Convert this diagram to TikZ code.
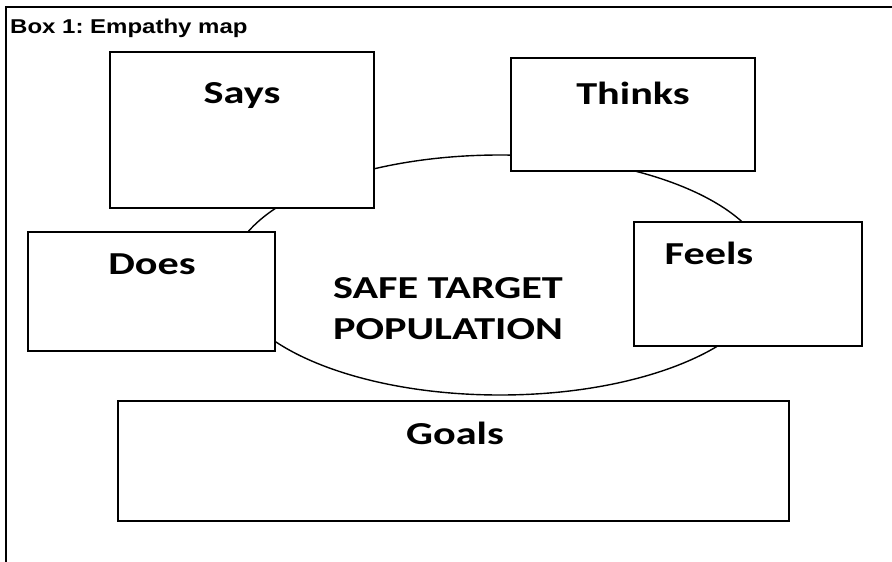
\documentclass[tikz,border=0pt]{standalone}
\usepackage{fontspec}
\usepackage{graphicx}
\setmainfont{Carlito}
\newfontfamily\titlefont{Liberation Sans}
\frenchspacing
\newcommand{\wide}[1]{\scalebox{1.32}[1]{#1}}
\newcommand{\widetitle}[1]{\scalebox{1.2}[1]{#1}}
\tikzset{
  boite/.style={draw, line width=2pt, fill=white},
  mot/.style={font=\bfseries\fontsize{32}{32}\selectfont, anchor=base, inner sep=0pt},
}

\begin{document}
\begin{tikzpicture}[x=1pt,y=-1pt]  % ------ Empathy map -------
    \useasboundingbox (0,0) rectangle (892,562);

    \draw[line width=2pt] (6,562) -- (6,7) -- (892,7) ;  % cadre
    \node[anchor=base west, inner sep=0pt, font=\titlefont\bfseries\fontsize{20}{20}\selectfont] (title) at (10,34) {\widetitle{Box 1: Empathy map}};

    \draw[line width=1.4pt] (500,275) ellipse [x radius=270, y radius=120] ;

    \draw[boite] (110,52) rectangle (374,208) ;   % says
    \draw[boite] (511,58) rectangle (755,171) ;   % thinks
    \draw[boite] (28,232) rectangle (275,351) ;   % does
    \draw[boite] (634,222) rectangle (862,346) ;  % feels
    \draw[boite] (118,401) rectangle (789,521) ;  % goals

    \node[mot] (says)   at (242,103) {\wide{Says}};
    \node[mot] (thinks) at (633,104) {\wide{Thinks}};
    \node[mot] (does)   at (152,274) {\wide{Does}};
    \node[mot] (feels)  at (709,264) {\wide{Feels}};
    \node[mot] (goals)  at (455,444) {\wide{Goals}};
    \node[mot] (safe)   at (448,298) {\wide{SAFE TARGET}};
    \node[mot] (population) at (448,339) {\wide{POPULATION}};
\end{tikzpicture}
\end{document}
